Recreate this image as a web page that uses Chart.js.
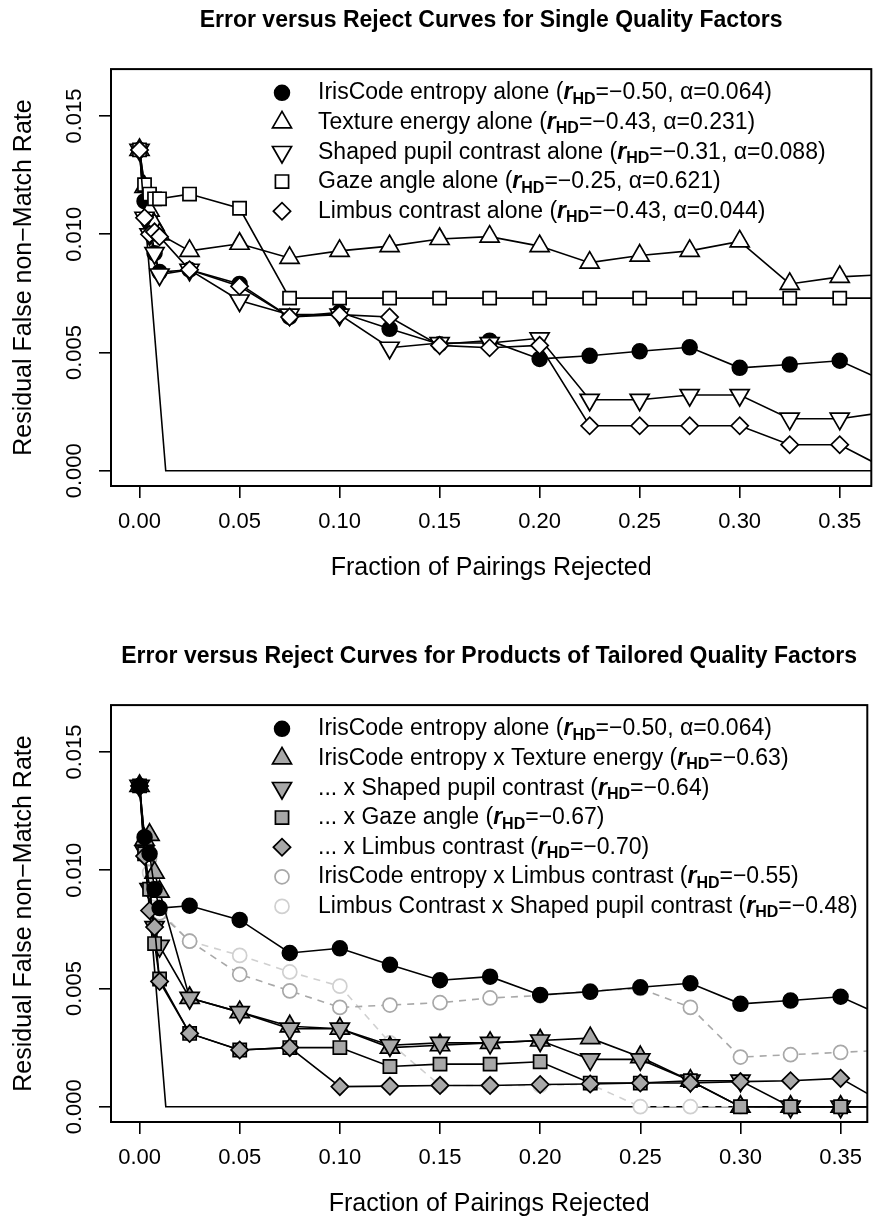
<!DOCTYPE html>
<html>
<head>
<meta charset="utf-8">
<title>Error versus Reject Curves</title>
<script src="https://cdn.jsdelivr.net/npm/chart.js@4.4.1/dist/chart.umd.min.js"></script>
<style>
  html, body { margin: 0; padding: 0; background: #fff; overflow: hidden; }
  .panel { position: relative; width: 880px; height: 636px; overflow: hidden; }
  canvas { display: block; }
</style>
</head>
<body>
<div class="panel"><canvas id="singleChart" width="884" height="636"></canvas></div>
<div class="panel"><canvas id="productChart" width="880" height="636"></canvas></div>
<script>
// fraction of pairings rejected at each evaluation step
const fractionRejected = [0, 0.0025, 0.005, 0.0075, 0.01, 0.025, 0.05, 0.075, 0.10, 0.125,
  0.15, 0.175, 0.20, 0.225, 0.25, 0.275, 0.30, 0.325, 0.35, 0.375];

// residual FNMR, single quality factors
const entropyAlone = [0.01357, 0.0114, 0.0107, 0.0092, 0.0084, 0.0085, 0.0079, 0.0065, 0.0067, 0.0060,
  0.00535, 0.0055, 0.00473, 0.00486, 0.00505, 0.00522, 0.00435, 0.00449, 0.00465, 0.0037];
const textureAlone = [0.01357, 0.0120, 0.0110, 0.0104, 0.0100, 0.0093, 0.0096, 0.0090, 0.0093, 0.0095,
  0.0098, 0.0099, 0.0095, 0.0088, 0.0091, 0.0093, 0.0097, 0.0079, 0.0082, 0.0083];
const pupilAlone = [0.01357, 0.0107, 0.0100, 0.0092, 0.0083, 0.0085, 0.0072, 0.0066, 0.0066, 0.0052,
  0.0054, 0.0054, 0.0056, 0.0030, 0.0030, 0.0032, 0.0032, 0.0022, 0.0022, 0.0025];
const gazeAlone = [0.01357, 0.0121, 0.0117, 0.0115, 0.0115, 0.0117, 0.0111, 0.0073, 0.0073, 0.0073,
  0.0073, 0.0073, 0.0073, 0.0073, 0.0073, 0.0073, 0.0073, 0.0073, 0.0073, 0.0073];
const limbusAlone = [0.01357, 0.0107, 0.0100, 0.0101, 0.0099, 0.0085, 0.0078, 0.0065, 0.0066, 0.0065,
  0.0053, 0.0052, 0.0053, 0.0019, 0.0019, 0.0019, 0.0019, 0.0011, 0.0011, 0.0000];

// residual FNMR, products of tailored quality factors
const entropyTexture = [0.01357, 0.0113, 0.0115, 0.0099, 0.0091, 0.0046, 0.0040, 0.0034, 0.0033, 0.0025,
  0.0026, 0.0027, 0.0028, 0.0029, 0.0021, 0.0011, 0.0000, 0.0000, 0.0000, 0.0000];
const withPupil = [0.01357, 0.0108, 0.0092, 0.0076, 0.0068, 0.0046, 0.0040, 0.0033, 0.0033, 0.0026,
  0.0027, 0.0027, 0.0028, 0.0020, 0.0020, 0.0011, 0.0011, 0.0000, 0.0000, 0.0000];
const withGaze = [0.01357, 0.0107, 0.0092, 0.0069, 0.0054, 0.0031, 0.0024, 0.0025, 0.0025, 0.0017,
  0.0018, 0.0018, 0.0019, 0.0010, 0.0010, 0.0011, 0.0000, 0.0000, 0.0000, 0.0000];
const withLimbus = [0.01357, 0.0106, 0.0083, 0.0076, 0.0053, 0.0031, 0.0024, 0.0025, 0.00085, 0.00087,
  0.0009, 0.0009, 0.00094, 0.00096, 0.0010, 0.0010, 0.00106, 0.0011, 0.0012, 0.0000];
const entropyLimbus = [0.01357, 0.0113, 0.0105, 0.0092, 0.0082, 0.0070, 0.0056, 0.0049, 0.0042, 0.0043,
  0.0044, 0.0046, 0.0047, 0.0049, 0.0050, 0.0042, 0.0021, 0.0022, 0.0023, 0.0024];
const limbusPupil = [0.01357, 0.0110, 0.0099, 0.0090, 0.0083, 0.0070, 0.0064, 0.0057, 0.0051, 0.0027,
  0.0009, 0.0009, 0.0009, 0.00095, 0.0000, 0.0000, 0.0000, 0.0000, 0.0000, 0.0000];

// ideal reject curve (every rejected pairing is a false non-match)
const idealX = [0, 0.0131, 0.375];
const idealY = [0.01357, 0, 0];

const xTicks = [0, 0.05, 0.10, 0.15, 0.20, 0.25, 0.30, 0.35];
const xTickLabels = ['0.00', '0.05', '0.10', '0.15', '0.20', '0.25', '0.30', '0.35'];
const yTicks = [0, 0.005, 0.010, 0.015];
const yTickLabels = ['0.000', '0.005', '0.010', '0.015'];

const singleNames = ['IrisCode entropy alone', 'Texture energy alone', 'Shaped pupil contrast alone',
  'Gaze angle alone', 'Limbus contrast alone'];
const singleR = ['\u22120.50', '\u22120.43', '\u22120.31', '\u22120.25', '\u22120.43'];
const singleAlpha = ['0.064', '0.231', '0.088', '0.621', '0.044'];

const productNames = ['IrisCode entropy alone', 'IrisCode entropy x Texture energy', '... x Shaped pupil contrast',
  '... x Gaze angle', '... x Limbus contrast', 'IrisCode entropy x Limbus contrast',
  'Limbus Contrast x Shaped pupil contrast'];
const productR = ['\u22120.50', '\u22120.63', '\u22120.64', '\u22120.67', '\u22120.70', '\u22120.55', '\u22120.48'];
const productAlpha = ['0.064', null, null, null, null, null, null];

const FONT = "'Liberation Sans', Arial, Helvetica, sans-serif";
Chart.defaults.font.family = FONT;
Chart.defaults.color = '#000';

// axis ranges: 0 sits 29px right of the box, 0.000 sits 15px above it
const X_MIN = -0.014258;
const PX_PER_X = 2034;
const Y_MIN = -0.000647;
const Y_MAX = 0.016987;

const GRAY = '#a8a8a8';
const marker = {
  disc:    { pointStyle: 'circle', pointRadius: 7.4, pointBackgroundColor: '#000' },
  up:      { pointStyle: 'triangle', pointRadius: 11, pointBackgroundColor: '#fff' },
  down:    { pointStyle: 'triangle', pointRadius: 11, pointRotation: 180, pointBackgroundColor: '#fff' },
  square:  { pointStyle: 'rect', pointRadius: 9.3, pointBackgroundColor: '#fff' },
  diamond: { pointStyle: 'rectRot', pointRadius: 8.6, pointBackgroundColor: '#fff' },
  ring:    { pointStyle: 'circle', pointRadius: 7, pointBackgroundColor: '#fff' }
};

function toPoints(xs, ys) {
  return xs.map((x, i) => ({ x: x, y: ys[i] }));
}

function series(values, shape, order, caption, extra) {
  return Object.assign({
    data: toPoints(fractionRejected, values),
    borderColor: '#000',
    borderWidth: 1.6,
    pointBorderColor: '#000',
    pointBorderWidth: 1.7,
    pointRotation: 0,
    clip: 0,
    order: order,
    caption: caption
  }, marker[shape], extra || {});
}

function idealCurve() {
  return {
    data: toPoints(idealX, idealY),
    borderColor: '#000',
    borderWidth: 1.6,
    pointRadius: 0,
    clip: 0,
    order: 100
  };
}

// box around the plot region
const framePlugin = {
  id: 'frame',
  afterDatasetsDraw(chart) {
    const { ctx, chartArea: a } = chart;
    ctx.save();
    ctx.strokeStyle = '#000';
    ctx.lineWidth = 2;
    ctx.strokeRect(a.left, a.top, a.right - a.left, a.bottom - a.top);
    ctx.restore();
  }
};

// legend with r_HD subscripts, one row per captioned dataset
const legendPlugin = {
  id: 'factorLegend',
  afterDatasetsDraw(chart, args, opts) {
    const ctx = chart.ctx;
    const size = opts.size;
    const plain = size + 'px ' + FONT;
    let row = 0;
    chart.data.datasets.forEach(ds => {
      if (!ds.caption) return;
      const y = opts.top + row * opts.step;
      ctx.save();
      ctx.lineWidth = ds.pointBorderWidth;
      ctx.strokeStyle = ds.pointBorderColor;
      ctx.fillStyle = ds.pointBackgroundColor;
      Chart.helpers.drawPoint(ctx, {
        pointStyle: ds.pointStyle,
        rotation: ds.pointRotation,
        radius: ds.pointRadius,
        borderWidth: ds.pointBorderWidth
      }, opts.markerX, y);
      ctx.restore();

      ctx.save();
      ctx.fillStyle = '#000';
      ctx.textAlign = 'left';
      ctx.textBaseline = 'alphabetic';
      const base = y + opts.baseline;
      let x = opts.textX;
      const put = (text, font, dy) => {
        ctx.font = font;
        ctx.fillText(text, x, base + (dy || 0));
        x += ctx.measureText(text).width;
      };
      put(ds.caption.name + ' (', plain);
      put('r', 'italic bold ' + size + 'px ' + FONT);
      put('HD', 'bold ' + Math.round(size * 0.7) + 'px ' + FONT, opts.subShift);
      put('=' + ds.caption.r, plain);
      if (ds.caption.alpha) put(', \u03b1=' + ds.caption.alpha, plain);
      put(')', plain);
      ctx.restore();
      row++;
    });
  }
};

function buildOptions(titleText, plotWidth, rightPad) {
  return {
    responsive: false,
    devicePixelRatio: 1,
    animation: false,
    events: [],
    layout: { padding: { top: 0, left: 0, right: rightPad, bottom: 0 } },
    plugins: {
      legend: { display: false },
      tooltip: { enabled: false },
      title: {
        display: true,
        text: titleText,
        fullSize: false,
        color: '#000',
        font: { family: FONT, size: 23, weight: 'bold' },
        padding: { top: 6.5, bottom: 35 }
      },
      factorLegend: { size: 23, markerX: 282, textX: 318, top: 92.8, step: 29.6, baseline: 6.5, subShift: 4.5 }
    },
    scales: {
      x: {
        type: 'linear',
        min: X_MIN,
        max: X_MIN + plotWidth / PX_PER_X,
        afterBuildTicks: s => { s.ticks = xTicks.map(v => ({ value: v })); },
        afterFit: s => { s.height = 150; },
        border: { display: false },
        grid: { drawOnChartArea: false, drawTicks: true, tickLength: 12, color: '#000', lineWidth: 1.6 },
        ticks: {
          autoSkip: false, maxRotation: 0, padding: 10.7, color: '#000',
          font: { family: FONT, size: 22 },
          callback: (v, i) => xTickLabels[i]
        },
        title: {
          display: true, text: 'Fraction of Pairings Rejected', color: '#000',
          font: { family: FONT, size: 25 }, padding: { top: 0, bottom: 53 }
        }
      },
      y: {
        type: 'linear',
        min: Y_MIN,
        max: Y_MAX,
        afterBuildTicks: s => { s.ticks = yTicks.map(v => ({ value: v })); },
        afterFit: s => { s.width = 111; },
        border: { display: false },
        grid: { drawOnChartArea: false, drawTicks: true, tickLength: 12, color: '#000', lineWidth: 1.6 },
        ticks: {
          autoSkip: false, minRotation: 90, maxRotation: 90, crossAlign: 'center', padding: -3,
          color: '#000', font: { family: FONT, size: 22 },
          callback: (v, i) => yTickLabels[i]
        },
        title: {
          display: true, text: 'Residual False non\u2212Match Rate', color: '#000',
          font: { family: FONT, size: 25 }, padding: { top: 9.3, bottom: 0 }
        }
      }
    }
  };
}

const cap = (names, rs, alphas, i) => ({ name: names[i], r: rs[i], alpha: alphas[i] });

new Chart(document.getElementById('singleChart'), {
  type: 'line',
  data: {
    datasets: [
      series(entropyAlone, 'disc', 5, cap(singleNames, singleR, singleAlpha, 0)),
      series(textureAlone, 'up', 4, cap(singleNames, singleR, singleAlpha, 1)),
      series(pupilAlone, 'down', 3, cap(singleNames, singleR, singleAlpha, 2)),
      series(gazeAlone, 'square', 2, cap(singleNames, singleR, singleAlpha, 3)),
      series(limbusAlone, 'diamond', 1, cap(singleNames, singleR, singleAlpha, 4)),
      idealCurve()
    ]
  },
  options: buildOptions('Error versus Reject Curves for Single Quality Factors', 773, 0),
  plugins: [framePlugin, legendPlugin]
});

new Chart(document.getElementById('productChart'), {
  type: 'line',
  data: {
    datasets: [
      series(entropyAlone, 'disc', 1, cap(productNames, productR, productAlpha, 0)),
      series(entropyTexture, 'up', 5, cap(productNames, productR, productAlpha, 1), { pointBackgroundColor: GRAY }),
      series(withPupil, 'down', 4, cap(productNames, productR, productAlpha, 2), { pointBackgroundColor: GRAY }),
      series(withGaze, 'square', 3, cap(productNames, productR, productAlpha, 3), { pointBackgroundColor: GRAY }),
      series(withLimbus, 'diamond', 2, cap(productNames, productR, productAlpha, 4), { pointBackgroundColor: GRAY }),
      series(entropyLimbus, 'ring', 40, cap(productNames, productR, productAlpha, 5),
        { borderColor: '#a8a8a8', pointBorderColor: '#a8a8a8', borderDash: [7, 6], borderWidth: 1.6 }),
      series(limbusPupil, 'ring', 50, cap(productNames, productR, productAlpha, 6),
        { borderColor: '#d0d0d0', pointBorderColor: '#d0d0d0', borderDash: [7, 6], borderWidth: 1.6 }),
      idealCurve()
    ]
  },
  options: buildOptions('Error versus Reject Curves for Products of Tailored Quality Factors', 768, 1),
  plugins: [framePlugin, legendPlugin]
});
</script>
</body>
</html>
